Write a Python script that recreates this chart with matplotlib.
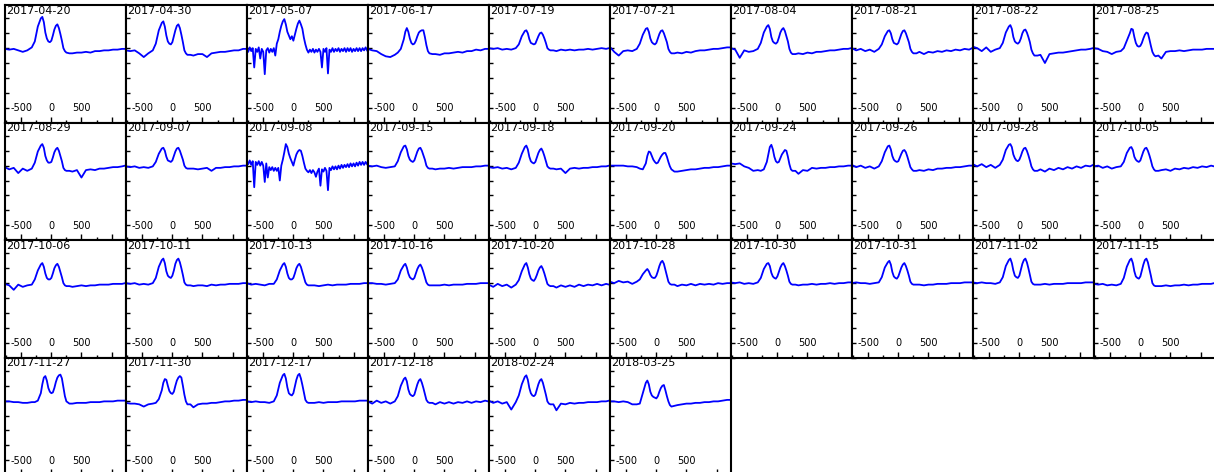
import matplotlib
matplotlib.use('Agg')
import matplotlib.pyplot as plt
from matplotlib.ticker import FixedLocator, FixedFormatter, MultipleLocator

# observation dates, one panel each
dates = ['2017-04-20', '2017-04-30', '2017-05-07', '2017-06-17', '2017-07-19',
         '2017-07-21', '2017-08-04', '2017-08-21', '2017-08-22', '2017-08-25',
         '2017-08-29', '2017-09-07', '2017-09-08', '2017-09-15', '2017-09-18',
         '2017-09-20', '2017-09-24', '2017-09-26', '2017-09-28', '2017-10-05',
         '2017-10-06', '2017-10-11', '2017-10-13', '2017-10-16', '2017-10-20',
         '2017-10-28', '2017-10-30', '2017-10-31', '2017-11-02', '2017-11-15',
         '2017-11-27', '2017-11-30', '2017-12-17', '2017-12-18', '2018-02-24',
         '2018-03-25']

# velocity grid shared by the smooth spectra
vel = [-775, -700, -625, -550, -475, -400, -325, -275, -225, -175, -150, -125,
       -100, -75, -50, -25, 0, 25, 50, 75, 100, 125, 150, 175, 200, 225, 250,
       300, 350, 425, 500, 575, 650, 725, 800, 875, 950, 1025, 1100, 1175, 1225]

# finer grid for the two noisy nights
vel_fine = [-775, -750, -725, -700, -675, -650, -625, -600, -575, -550, -525,
            -500, -475, -450, -425, -400, -375, -350, -325, -300, -275, -250,
            -225, -200, -175, -150, -125, -100, -75, -50, -25, 0, 25, 50, 75,
            100, 125, 150, 175, 200, 225, 250, 275, 300, 325, 350, 375, 400,
            425, 450, 475, 500, 525, 550, 575, 600, 625, 650, 675, 700, 725,
            750, 775, 800, 825, 850, 875, 900, 925, 950, 975, 1000, 1025, 1050,
            1075, 1100, 1125, 1150, 1175, 1200, 1225]

# normalised flux
s01 = [0.99,0.98,0.99,0.97,0.95,0.97,1.01,1.09,1.29,1.40,1.42,1.35,1.21,1.13,1.09,1.08,1.10,1.17,1.25,1.30,1.32,1.27,1.19,1.10,1.00,0.96,0.94,0.93,0.93,0.94,0.94,0.95,0.94,0.96,0.96,0.97,0.97,0.98,0.98,0.99,0.99]
s02 = [0.97,0.96,0.97,0.93,0.88,0.93,0.97,1.06,1.24,1.34,1.36,1.29,1.17,1.09,1.06,1.05,1.08,1.16,1.24,1.30,1.32,1.27,1.18,1.08,0.97,0.93,0.91,0.91,0.90,0.92,0.92,0.88,0.93,0.94,0.95,0.95,0.96,0.97,0.97,0.99,0.99]
s03 = [1.00,0.95,1.01,0.96,1.00,0.74,0.99,0.95,1.01,0.86,0.99,0.95,0.65,0.97,1.00,0.94,0.99,0.95,1.00,0.90,
       1.06,1.12,1.22,1.30,1.36,1.39,1.32,1.22,1.17,1.12,1.16,1.10,1.18,1.26,1.33,1.37,1.32,1.26,1.14,1.05,
       0.98,0.94,0.98,0.95,0.99,0.94,0.98,0.95,0.99,0.95,0.74,0.99,0.95,1.00,0.66,0.98,0.95,1.00,0.95,0.99,
       0.96,1.00,0.95,0.99,0.96,1.00,0.95,1.00,0.96,1.00,0.95,0.99,0.96,1.00,0.96,1.00,0.96,1.00,0.97,1.01,0.97]
s04 = [0.99,0.97,0.96,0.92,0.89,0.88,0.91,0.94,0.99,1.12,1.22,1.27,1.22,1.13,1.07,1.05,1.06,1.10,1.16,1.21,1.23,1.24,1.24,1.15,1.04,0.96,0.93,0.92,0.92,0.91,0.93,0.93,0.94,0.95,0.94,0.96,0.96,0.98,0.97,0.99,0.99]
s05 = [1.00,0.99,1.00,0.98,0.99,0.98,1.00,1.05,1.16,1.23,1.24,1.20,1.12,1.07,1.06,1.05,1.06,1.11,1.16,1.20,1.21,1.18,1.13,1.07,1.00,0.98,0.97,0.97,0.96,0.98,0.97,0.98,0.97,0.98,0.98,0.99,0.98,0.99,1.00,0.99,1.00]
s06 = [1.02,0.95,0.90,0.96,0.97,0.96,0.99,1.06,1.18,1.26,1.27,1.22,1.13,1.08,1.06,1.05,1.07,1.13,1.19,1.23,1.24,1.20,1.14,1.08,0.99,0.95,0.93,0.93,0.94,0.93,0.95,0.94,0.96,0.97,0.97,0.98,0.99,0.99,1.00,1.01,1.01]
s07 = [1.00,0.98,0.87,0.97,0.95,0.96,0.99,1.07,1.21,1.29,1.31,1.26,1.15,1.09,1.07,1.06,1.08,1.14,1.21,1.25,1.27,1.23,1.16,1.09,0.99,0.94,0.92,0.92,0.93,0.92,0.94,0.93,0.95,0.95,0.96,0.97,0.97,0.98,0.99,0.99,1.00]
s08 = [1.00,0.97,0.99,0.96,0.98,0.95,0.99,1.05,1.16,1.23,1.24,1.20,1.12,1.07,1.06,1.05,1.07,1.13,1.19,1.23,1.24,1.20,1.14,1.08,0.99,0.95,0.93,0.93,0.95,0.92,0.95,0.94,0.96,0.95,0.97,0.96,0.98,0.97,0.99,0.98,1.00]
s09 = [1.02,1.00,0.96,1.01,0.95,0.98,1.00,1.07,1.21,1.29,1.31,1.26,1.15,1.09,1.07,1.06,1.08,1.13,1.20,1.24,1.25,1.21,1.15,1.08,0.98,0.93,0.90,0.90,0.91,0.80,0.92,0.93,0.94,0.94,0.95,0.96,0.97,0.98,0.98,0.99,1.00]
s10 = [1.00,0.99,0.96,0.95,0.92,0.95,0.96,1.00,1.10,1.20,1.26,1.25,1.15,1.07,1.03,1.02,1.03,1.07,1.13,1.18,1.21,1.20,1.12,1.03,0.95,0.91,0.89,0.90,0.86,0.95,0.96,0.96,0.97,0.96,0.97,0.98,0.98,0.98,0.99,0.99,0.99]
s11 = [0.98,0.95,0.97,0.90,0.96,0.93,0.96,1.04,1.19,1.27,1.29,1.24,1.13,1.07,1.04,1.04,1.05,1.11,1.18,1.22,1.24,1.20,1.13,1.06,0.97,0.94,0.93,0.93,0.92,0.94,0.84,0.94,0.95,0.94,0.96,0.96,0.97,0.98,0.98,0.99,1.00]
s12 = [0.99,0.98,0.99,0.97,0.98,0.97,0.99,1.05,1.16,1.23,1.24,1.20,1.12,1.07,1.06,1.05,1.07,1.13,1.19,1.23,1.24,1.20,1.14,1.08,1.00,0.97,0.96,0.96,0.96,0.95,0.96,0.97,0.93,0.97,0.97,0.98,0.98,0.99,0.99,1.00,1.00]
s13 = [1.07,1.02,1.07,1.01,1.06,0.71,1.05,1.01,1.06,1.00,1.05,1.00,0.78,1.03,0.84,0.98,0.94,0.98,0.93,0.97,
       0.93,0.97,0.80,1.00,1.08,1.18,1.29,1.25,1.16,1.10,1.05,1.00,1.08,1.15,1.19,1.21,1.20,1.13,1.04,0.96,
       0.93,0.91,0.94,0.90,0.94,0.91,0.85,0.92,0.96,0.73,0.95,0.92,0.97,0.93,0.67,0.97,0.94,0.99,0.95,0.99,
       0.95,1.00,0.96,1.01,0.97,1.01,0.98,1.02,0.98,1.03,0.99,1.03,0.99,1.04,1.00,1.05,1.01,1.05,1.01,1.05,1.02]
s14 = [1.00,0.99,1.00,0.98,0.97,0.98,0.99,1.06,1.18,1.26,1.27,1.22,1.13,1.08,1.06,1.05,1.07,1.13,1.19,1.23,1.24,1.20,1.14,1.08,1.00,0.97,0.96,0.96,0.95,0.96,0.96,0.97,0.96,0.97,0.98,0.98,0.98,0.99,0.99,1.00,1.00]
s15 = [0.98,0.97,0.98,0.96,0.97,0.95,0.97,1.04,1.16,1.25,1.27,1.22,1.12,1.06,1.04,1.03,1.05,1.11,1.17,1.21,1.23,1.19,1.13,1.06,0.99,0.97,0.96,0.96,0.95,0.96,0.90,0.96,0.97,0.96,0.97,0.97,0.98,0.98,0.99,0.99,1.00]
s16 = [1.00,1.00,1.00,1.00,0.99,0.99,0.98,0.96,0.95,1.03,1.13,1.19,1.18,1.13,1.08,1.05,1.03,1.04,1.08,1.12,1.15,1.17,1.17,1.12,1.05,0.99,0.95,0.92,0.92,0.93,0.94,0.95,0.95,0.96,0.97,0.97,0.98,0.98,0.99,1.00,1.00]
s17 = [1.03,1.02,1.03,0.99,0.97,0.93,0.94,0.93,0.95,1.05,1.15,1.25,1.28,1.22,1.12,1.06,1.04,1.05,1.10,1.15,1.18,1.21,1.20,1.12,1.02,0.95,0.93,0.93,0.89,0.94,0.93,0.97,0.96,0.97,0.97,0.98,0.98,0.99,0.99,1.00,1.00]
s18 = [1.01,0.98,1.00,0.97,0.99,0.96,0.99,1.06,1.18,1.26,1.27,1.22,1.13,1.08,1.06,1.05,1.06,1.11,1.16,1.20,1.21,1.18,1.12,1.05,0.98,0.95,0.93,0.93,0.94,0.93,0.95,0.94,0.96,0.96,0.97,0.97,0.98,0.98,0.99,1.00,1.00]
s19 = [1.02,0.99,1.02,0.98,1.01,0.97,1.01,1.08,1.21,1.28,1.29,1.25,1.15,1.10,1.07,1.06,1.08,1.13,1.19,1.23,1.24,1.20,1.14,1.07,0.99,0.95,0.93,0.93,0.95,0.92,0.96,0.94,0.97,0.95,0.98,0.96,0.99,0.97,1.00,0.99,1.01]
s20 = [0.99,1.00,0.97,0.99,0.96,0.98,0.99,1.05,1.17,1.24,1.25,1.21,1.12,1.08,1.06,1.05,1.07,1.13,1.19,1.23,1.24,1.20,1.14,1.07,0.99,0.95,0.93,0.93,0.94,0.95,0.93,0.96,0.95,0.97,0.96,0.98,0.97,0.99,0.98,1.00,0.99]
s21 = [0.99,0.97,0.91,0.98,0.95,0.97,0.98,1.05,1.17,1.25,1.27,1.22,1.13,1.07,1.05,1.05,1.07,1.13,1.20,1.24,1.26,1.22,1.15,1.08,1.00,0.97,0.96,0.96,0.95,0.96,0.97,0.96,0.97,0.97,0.98,0.98,0.98,0.99,0.99,0.99,1.00]
s22 = [1.00,0.99,1.00,0.98,0.99,0.98,1.00,1.07,1.22,1.31,1.33,1.27,1.16,1.10,1.08,1.07,1.10,1.17,1.26,1.31,1.33,1.28,1.20,1.11,1.01,0.98,0.97,0.97,0.96,0.97,0.97,0.96,0.98,0.97,0.98,0.98,0.99,0.99,0.99,1.00,1.00]
s23 = [1.00,0.98,0.99,0.98,0.97,0.99,0.99,1.05,1.17,1.25,1.27,1.22,1.13,1.07,1.05,1.05,1.07,1.13,1.20,1.24,1.26,1.22,1.15,1.08,1.01,0.98,0.97,0.97,0.97,0.96,0.97,0.98,0.97,0.98,0.98,0.98,0.99,0.99,0.99,1.00,1.00]
s24 = [1.00,1.00,0.99,0.99,0.98,0.99,1.00,1.05,1.17,1.24,1.26,1.21,1.13,1.08,1.06,1.05,1.07,1.13,1.19,1.23,1.25,1.21,1.15,1.08,1.01,0.98,0.97,0.97,0.97,0.97,0.98,0.97,0.98,0.98,0.98,0.99,0.99,0.99,1.00,1.00,1.00]
s25 = [0.98,0.95,0.99,0.96,0.98,0.94,0.98,1.04,1.16,1.25,1.27,1.21,1.12,1.06,1.04,1.03,1.06,1.11,1.17,1.21,1.23,1.19,1.13,1.06,0.99,0.97,0.96,0.96,0.94,0.97,0.95,0.97,0.95,0.98,0.96,0.98,0.97,0.99,0.97,0.99,0.98]
s26 = [1.02,1.00,1.03,1.01,1.02,0.99,1.02,1.05,1.12,1.17,1.19,1.16,1.11,1.08,1.07,1.07,1.10,1.16,1.23,1.28,1.30,1.26,1.18,1.10,1.02,0.99,0.98,0.98,0.96,0.98,0.97,0.99,0.97,0.99,0.98,0.99,0.98,1.00,0.99,1.00,1.00]
s27 = [1.01,1.00,1.01,0.99,1.00,0.99,1.01,1.07,1.19,1.26,1.27,1.23,1.14,1.09,1.07,1.06,1.09,1.15,1.21,1.25,1.27,1.23,1.17,1.10,1.02,0.99,0.98,0.98,0.97,0.98,0.98,0.99,0.98,0.99,0.99,1.00,0.99,1.00,1.00,1.01,1.01]
s28 = [1.00,1.01,1.00,1.00,0.99,1.00,1.01,1.08,1.21,1.28,1.30,1.25,1.15,1.09,1.07,1.06,1.09,1.15,1.21,1.25,1.27,1.23,1.17,1.10,1.02,0.99,0.98,0.98,0.98,0.97,0.98,0.98,0.99,0.99,0.99,1.00,1.00,1.00,1.01,1.01,1.01]
s29 = [1.01,1.00,1.01,1.00,1.00,0.99,1.01,1.08,1.23,1.31,1.33,1.27,1.17,1.10,1.08,1.07,1.10,1.18,1.26,1.31,1.33,1.28,1.20,1.11,1.02,0.99,0.98,0.98,0.98,0.99,0.98,0.99,0.99,0.99,1.00,1.00,1.00,1.00,1.01,1.01,1.01]
s30 = [0.99,0.98,0.99,0.97,0.98,0.97,0.99,1.07,1.22,1.31,1.33,1.27,1.16,1.09,1.07,1.06,1.09,1.17,1.25,1.31,1.33,1.28,1.19,1.10,1.00,0.97,0.96,0.96,0.96,0.97,0.96,0.97,0.97,0.98,0.97,0.98,0.98,0.99,0.99,0.99,1.00]
s31 = [0.99,0.99,0.98,0.98,0.97,0.97,0.98,0.98,1.00,1.10,1.22,1.31,1.33,1.27,1.17,1.12,1.10,1.11,1.17,1.25,1.31,1.34,1.35,1.30,1.18,1.06,0.99,0.96,0.96,0.97,0.97,0.97,0.98,0.98,0.98,0.99,0.99,0.99,1.00,1.00,1.00]
s32 = [0.97,0.96,0.96,0.95,0.92,0.95,0.96,0.97,1.02,1.14,1.24,1.29,1.28,1.20,1.13,1.10,1.09,1.12,1.20,1.27,1.31,1.33,1.31,1.20,1.08,0.99,0.95,0.95,0.91,0.95,0.96,0.96,0.97,0.97,0.98,0.99,0.99,1.00,1.00,1.01,1.01]
s33 = [0.99,0.98,0.99,0.98,0.98,0.97,0.99,1.07,1.24,1.34,1.36,1.30,1.18,1.10,1.08,1.07,1.10,1.19,1.28,1.34,1.36,1.30,1.21,1.11,1.01,0.98,0.97,0.97,0.97,0.98,0.97,0.98,0.98,0.98,0.99,0.99,0.99,0.99,1.00,1.00,1.00]
s34 = [0.99,0.96,1.00,0.97,0.99,0.96,0.99,1.06,1.20,1.29,1.31,1.26,1.15,1.09,1.07,1.06,1.08,1.15,1.22,1.27,1.29,1.24,1.17,1.09,1.01,0.98,0.97,0.97,0.95,0.98,0.96,0.98,0.96,0.98,0.97,0.99,0.97,0.99,0.98,1.00,0.99]
s35 = [1.00,0.97,0.99,0.96,0.98,0.88,0.98,1.07,1.22,1.32,1.34,1.28,1.17,1.10,1.07,1.06,1.08,1.15,1.22,1.27,1.29,1.24,1.16,1.08,0.99,0.96,0.95,0.95,0.87,0.96,0.95,0.97,0.96,0.97,0.97,0.98,0.98,0.98,0.99,0.99,1.00]
s36 = [0.99,0.99,0.98,0.99,0.98,0.95,0.95,0.96,1.10,1.24,1.27,1.22,1.12,1.07,1.05,1.04,1.03,1.06,1.12,1.17,1.20,1.21,1.14,1.06,0.99,0.94,0.92,0.93,0.94,0.95,0.96,0.96,0.97,0.97,0.98,0.98,0.99,0.99,1.00,1.01,1.01]

spectra = [s01, s02, s03, s04, s05, s06, s07, s08, s09, s10,
           s11, s12, s13, s14, s15, s16, s17, s18, s19, s20,
           s21, s22, s23, s24, s25, s26, s27, s28, s29, s30,
           s31, s32, s33, s34, s35, s36]

W, H = 1214, 472
fig = plt.figure(figsize=(W / 100, H / 100), dpi=100)

# panel grid in pixels, last row runs off the bottom of the canvas
col_w = 121
row_h = 117.5
x_off = 5
y_off = 5

for i in range(len(dates)):
    row, col = divmod(i, 10)
    left = (x_off + col * col_w) / W
    bottom = 1 - (y_off + (row + 1) * row_h) / H
    ax = fig.add_axes([left, bottom, col_w / W, row_h / H])

    flux = spectra[i]
    x = vel_fine if len(flux) == len(vel_fine) else vel
    ax.plot(x, flux, color='#0000ff', lw=1.3)
    ax.set_xlim(-770, 1240)
    ax.set_ylim(0, 1.58)

    ax.xaxis.set_major_locator(FixedLocator([-500, 0, 500, 1000]))
    ax.xaxis.set_major_formatter(FixedFormatter(['-500', '0', '500', '']))
    ax.xaxis.set_minor_locator(FixedLocator([-750, -250, 250, 750]))
    ax.yaxis.set_major_locator(MultipleLocator(0.2))

    ax.tick_params(axis='x', which='major', direction='in', length=4, width=1,
                   pad=-14, labelsize=7)
    ax.tick_params(axis='x', which='minor', direction='in', length=2.5, width=1)
    ax.tick_params(axis='y', direction='in', length=3, width=1, labelleft=False)
    for sp in ax.spines.values():
        sp.set_linewidth(1.5)

    ax.text(0.008, 0.995, dates[i], transform=ax.transAxes,
            ha='left', va='top', fontsize=8)

fig.savefig('out.png', dpi=100)
